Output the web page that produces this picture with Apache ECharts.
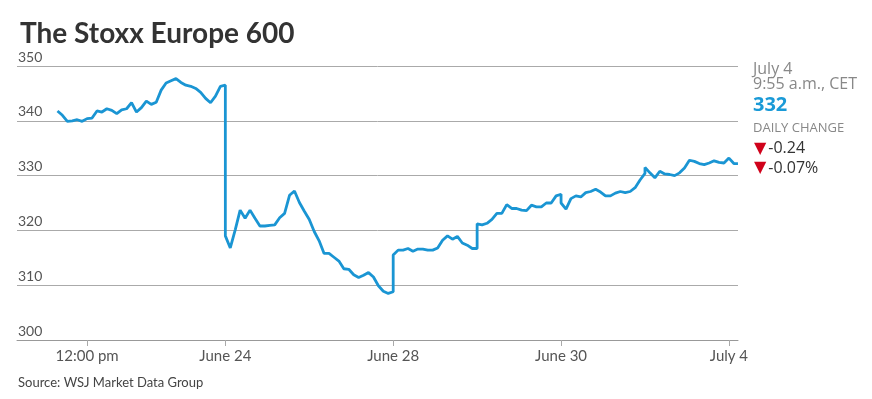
<!DOCTYPE html>
<html>
<head>
<meta charset="utf-8">
<script src="https://cdn.jsdelivr.net/npm/echarts@6/dist/echarts.min.js"></script>
<style>
  html, body { margin: 0; padding: 0; background: #fff; }
  #chart { width: 872px; height: 399px; }
</style>
</head>
<body>
<div id="chart"></div>
<script>
// trading sessions shown on the chart (overnight gaps are squeezed out)
const sessions = ['June 22', 'June 23', 'June 24', 'June 27', 'June 28', 'June 29', 'June 30', 'July 1', 'July 4'];
// half-hour samples, 9:00 open to 17:30 close (CET)
const halfHours = ['9:00', '9:30', '10:00', '10:30', '11:00', '11:30', '12:00', '12:30', '13:00',
  '13:30', '14:00', '14:30', '15:00', '15:30', '16:00', '16:30', '17:00', '17:30'];
const july4Times = ['9:00', '9:30', '9:55'];

const june22 = [341.8, 341.0, 339.9, 340.0, 340.2, 339.9, 340.4, 340.5, 341.8, 341.6, 342.2, 341.9, 341.3, 342.0, 342.2, 343.3, 341.6, 342.4];
const june23 = [342.5, 343.6, 343.0, 343.4, 345.6, 346.9, 347.3, 347.7, 347.0, 346.5, 346.3, 345.9, 345.2, 344.1, 343.3, 344.5, 346.3, 346.5];
const june24 = [319.0, 316.8, 320.1, 323.7, 322.2, 323.7, 322.2, 320.8, 320.8, 320.9, 321.0, 322.3, 323.1, 326.4, 327.2, 325.1, 323.5, 322.0];
const june27 = [322.0, 319.8, 318.1, 315.8, 315.8, 315.1, 314.4, 313.0, 312.9, 311.9, 311.4, 311.8, 312.3, 311.5, 309.9, 308.9, 308.5, 308.8];
const june28 = [315.5, 316.4, 316.4, 316.7, 316.2, 316.6, 316.6, 316.4, 316.4, 316.8, 318.2, 319.0, 318.4, 318.9, 317.7, 317.3, 316.7, 316.7];
const june29 = [321.2, 321.0, 321.3, 322.0, 323.1, 323.1, 324.7, 324.0, 324.0, 323.7, 323.6, 324.6, 324.3, 324.3, 325.0, 325.0, 326.3, 326.6];
const june30 = [325.0, 323.9, 325.8, 326.3, 326.1, 326.9, 327.1, 327.5, 327.0, 326.3, 326.3, 326.8, 327.1, 326.9, 327.1, 327.8, 329.2, 330.4];
const july1  = [331.5, 330.5, 329.6, 330.8, 330.3, 330.2, 330.0, 330.5, 331.4, 332.8, 332.6, 332.2, 332.0, 332.3, 332.7, 332.4, 332.3, 333.2];
const july4  = [333.4, 332.2, 332.2];

const tickLabels = [
  { session: 'June 22', time: '12:00', label: '12:00 pm' },
  { session: 'June 24', time: '9:00', label: 'June 24' },
  { session: 'June 28', time: '9:00', label: 'June 28' },
  { session: 'June 30', time: '9:00', label: 'June 30' },
  { session: 'July 4', time: '9:00', label: 'July 4' }
];

const SESSION_HOURS = 8.5; // 9:00 - 17:30

// trading-hours position of a session/time pair
function tradingHour(session, time) {
  const d = sessions.indexOf(session);
  const p = time.split(':');
  return d * SESSION_HOURS + (Number(p[0]) - 9) + Number(p[1]) / 60;
}

const perSession = [june22, june23, june24, june27, june28, june29, june30, july1];
const seriesData = [];
perSession.forEach(function (vals, i) {
  vals.forEach(function (v, j) {
    seriesData.push([tradingHour(sessions[i], halfHours[j]), v]);
  });
});
july4.forEach(function (v, j) {
  seriesData.push([tradingHour('July 4', july4Times[j]), v]);
});

const tickValues = tickLabels.map(function (t) { return tradingHour(t.session, t.time); });

const PANEL = 'Open Sans';
const chart = echarts.init(document.getElementById('chart'));
const option = {
  animation: false,
  title: {
    text: 'The Stoxx Europe 600',
    left: 15,
    top: 15,
    textStyle: { fontFamily: 'Lato', fontWeight: 'bold', fontSize: 28, color: '#333' }
  },
  grid: { left: 17, right: 134, top: 66, bottom: 59 },
  xAxis: {
    type: 'value',
    min: -4.1,
    max: 68.92,
    axisLine: { show: true, lineStyle: { color: '#999', width: 1 } },
    axisTick: { show: true, customValues: tickValues, length: 6, lineStyle: { color: '#aaa' } },
    axisLabel: {
      customValues: tickValues,
      margin: 9,
      fontFamily: 'Lato',
      fontSize: 15,
      color: '#555',
      formatter: function (val) {
        for (let i = 0; i < tickValues.length; i++) {
          if (Math.abs(tickValues[i] - val) < 1e-6) return tickLabels[i].label;
        }
        return '';
      }
    },
    splitLine: { show: false }
  },
  yAxis: {
    type: 'value',
    min: 300,
    max: 350,
    interval: 10,
    axisLine: { show: false },
    axisTick: { show: false },
    axisLabel: {
      inside: true,
      verticalAlign: 'bottom',
      margin: 1,
      padding: [0, 0, 2, 0],
      fontFamily: 'Lato',
      fontSize: 14,
      color: '#555'
    },
    splitLine: { lineStyle: { color: '#aaa', width: 1 } }
  },
  series: [{
    type: 'line',
    data: seriesData,
    symbol: 'none',
    lineStyle: { color: '#1a95d3', width: 2.8 },
    z: 3
  }],
  graphic: [
    { type: 'text', x: 18, y: 383, style: { text: 'Source: WSJ Market Data Group', fill: '#444', font: '13px Lato', verticalAlign: 'middle' } },
    { type: 'text', x: 753, y: 69, style: { text: 'July 4', fill: '#888', font: '16px "' + PANEL + '"', verticalAlign: 'middle' } },
    { type: 'text', x: 753, y: 84.5, style: { text: '9:55 a.m., CET', fill: '#888', font: '16px "' + PANEL + '"', verticalAlign: 'middle' } },
    { type: 'text', x: 753, y: 105, style: { text: '332', fill: '#1a9ad7', font: 'bold 20px "' + PANEL + '"', verticalAlign: 'middle' } },
    { type: 'text', x: 753, y: 128.5, style: { text: 'DAILY CHANGE', fill: '#888', font: '13px "' + PANEL + '"', verticalAlign: 'middle' } },
    { type: 'text', x: 754, y: 148.5, style: {
      text: '{t|▼}-0.24',
      fill: '#333', font: '16px "' + PANEL + '"', verticalAlign: 'middle',
      rich: { t: { fill: '#d0021b', fontSize: 16, fontFamily: 'DejaVu Sans', padding: [0, 2, 0, 0] } }
    } },
    { type: 'text', x: 754, y: 168, style: {
      text: '{t|▼}-0.07%',
      fill: '#333', font: '16px "' + PANEL + '"', verticalAlign: 'middle',
      rich: { t: { fill: '#d0021b', fontSize: 16, fontFamily: 'DejaVu Sans', padding: [0, 2, 0, 0] } }
    } }
  ]
};
chart.setOption(option);
</script>
</body>
</html>
